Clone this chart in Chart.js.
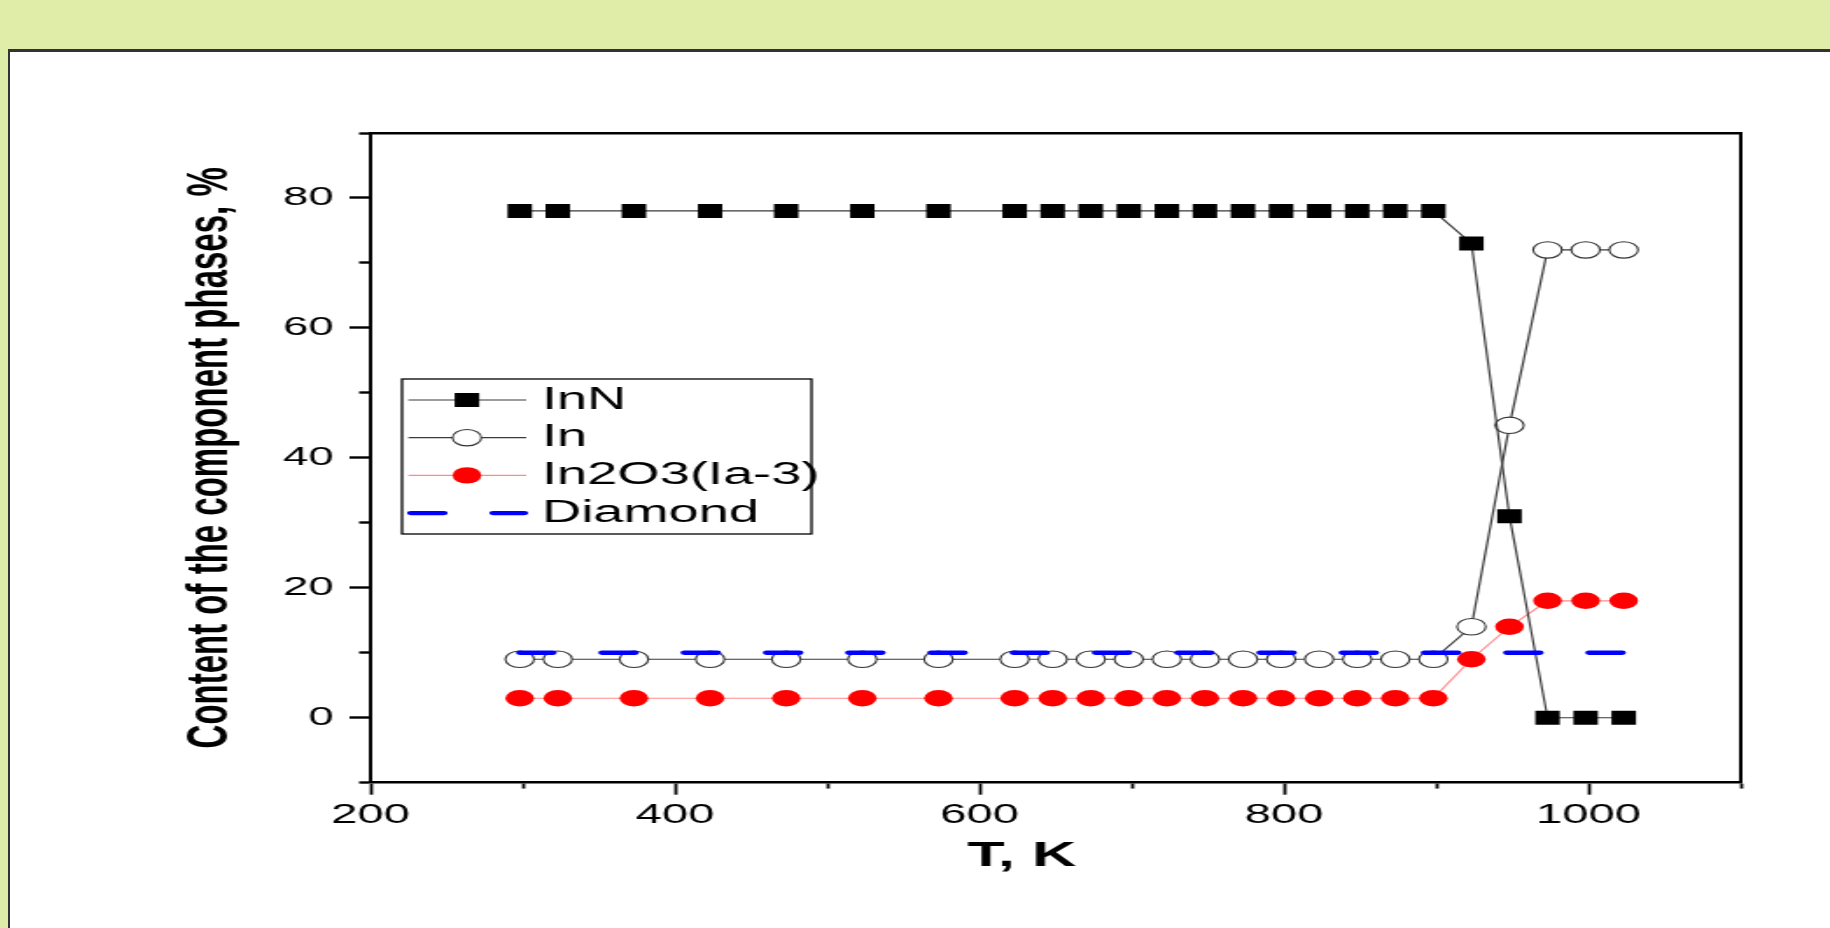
<!DOCTYPE html>
<html>
<head>
<meta charset="utf-8">
<title>Content of the component phases</title>
<script src="https://cdn.jsdelivr.net/npm/chart.js@4.4.1/dist/chart.umd.min.js"></script>
<style>
  html, body { margin: 0; padding: 0; }
  body { width: 1830px; height: 928px; overflow: hidden; background: #e0eda8; position: relative; }
  #panel { position: absolute; left: 8px; top: 49px; width: 1840px; height: 900px; background: #fff;
           border-left: 2px solid #333; border-top: 3px solid #333; }
  #chart { position: absolute; left: 10px; top: 52px; }
</style>
</head>
<body>
<div id="panel"></div>
<!-- the original figure is stretched sideways, so the canvas is too (inline size, Chart.js keeps it) -->
<canvas id="chart" width="1040" height="876" style="width:1820px;height:876px"></canvas>
<script>
// T, K
const temperatures = [298, 323, 373, 423, 473, 523, 573, 623, 648, 673, 698, 723,
                      748, 773, 798, 823, 848, 873, 898, 923, 948, 973, 998, 1023];
// content, %
const inN     = [78, 78, 78, 78, 78, 78, 78, 78, 78, 78, 78, 78, 78, 78, 78, 78, 78, 78, 78, 73, 31, 0, 0, 0];
const inMetal = [9, 9, 9, 9, 9, 9, 9, 9, 9, 9, 9, 9, 9, 9, 9, 9, 9, 9, 9, 14, 45, 72, 72, 72];
const in2o3   = [3, 3, 3, 3, 3, 3, 3, 3, 3, 3, 3, 3, 3, 3, 3, 3, 3, 3, 3, 9, 14, 18, 18, 18];
const diamond = [10, 10, 10, 10, 10, 10, 10, 10, 10, 10, 10, 10, 10, 10, 10, 10, 10, 10, 10, 10, 10, 10, 10, 10];

const seriesNames = ['InN', 'In', 'In2O3(Ia-3)', 'Diamond'];
const xTickLabels = [200, 400, 600, 800, 1000];
const yTickLabels = [0, 20, 40, 60, 80];

const family = '"Liberation Sans", Arial, sans-serif';

function pts(vals) {
    return temperatures.map(function(t, i) { return {x: t, y: vals[i]}; });
}

function isMajor(c, labels) {
    return c.tick && labels.indexOf(c.tick.value) !== -1;
}

// legend box drawn inside the plot, like the Origin one
const insideLegend = {
    id: 'insideLegend',
    afterDraw: function(chart) {
        const ctx = chart.ctx;
        const left = 224, top = 327, right = 458, bottom = 482;
        ctx.save();
        ctx.fillStyle = '#fff';
        ctx.fillRect(left, top, right - left, bottom - top);
        ctx.strokeStyle = '#000';
        ctx.lineWidth = 1.3;
        ctx.strokeRect(left, top, right - left, bottom - top);

        chart.data.datasets.forEach(function(ds, i) {
            const y = 348 + i * 37.7;
            ctx.save();
            ctx.strokeStyle = ds.borderColor;
            ctx.lineWidth = ds.borderWidth;
            ctx.setLineDash(ds.borderDash || []);
            ctx.lineCap = ds.borderCapStyle || 'butt';
            ctx.beginPath();
            if (ds.pointRadius > 0) {
                ctx.moveTo(227.6, y);
                ctx.lineTo(295, y);
            } else {
                ctx.moveTo(229, y);
                ctx.lineTo(294, y);
            }
            ctx.stroke();
            ctx.restore();

            if (ds.pointRadius > 0) {
                const cx = 261.1, r = ds.pointRadius;
                ctx.fillStyle = ds.pointBackgroundColor;
                ctx.strokeStyle = ds.pointBorderColor;
                ctx.lineWidth = ds.pointBorderWidth;
                ctx.beginPath();
                if (ds.pointStyle === 'rect') {
                    const h = r * Math.SQRT1_2;
                    ctx.rect(cx - h, y - h, 2 * h, 2 * h);
                } else {
                    ctx.arc(cx, y, r, 0, Math.PI * 2);
                }
                ctx.fill();
                if (ds.pointBorderWidth > 0) ctx.stroke();
            }

            ctx.fillStyle = '#000';
            ctx.font = '31px ' + family;
            ctx.textAlign = 'left';
            ctx.textBaseline = 'middle';
            ctx.fillText(ds.label, 304, y);
        });
        ctx.restore();
    }
};

const data = {
    datasets: [
        {
            label: seriesNames[0],
            data: pts(inN),
            borderColor: '#3a3a3a',
            borderWidth: 1.2,
            pointStyle: 'rect',
            pointRadius: 9.9,
            pointBackgroundColor: '#000',
            pointBorderColor: '#000',
            pointBorderWidth: 0,
            order: 1
        },
        {
            label: seriesNames[1],
            data: pts(inMetal),
            borderColor: '#3a3a3a',
            borderWidth: 1.2,
            pointStyle: 'circle',
            pointRadius: 8.2,
            pointBackgroundColor: '#fff',
            pointBorderColor: '#333',
            pointBorderWidth: 1.1,
            order: 1
        },
        {
            label: seriesNames[2],
            data: pts(in2o3),
            borderColor: '#ff8a8a',
            borderWidth: 1.2,
            pointStyle: 'circle',
            pointRadius: 8.2,
            pointBackgroundColor: '#ff0000',
            pointBorderColor: '#ff0000',
            pointBorderWidth: 0,
            order: 1
        },
        {
            label: seriesNames[3],
            data: pts(diamond),
            borderColor: '#0000ff',
            borderWidth: 4.3,
            borderDash: [19, 28],
            borderCapStyle: 'round',
            pointRadius: 0,
            order: 0
        }
    ]
};

const config = {
    type: 'line',
    data: data,
    plugins: [insideLegend],
    options: {
        responsive: false,
        devicePixelRatio: 1,
        animation: false,
        layout: { padding: 0 },
        plugins: {
            legend: { display: false },
            tooltip: { enabled: false }
        },
        scales: {
            x: {
                type: 'linear',
                position: 'bottom',
                min: 200,
                max: 1100,
                afterFit: function(s) { s.height = 145.3; },
                border: { display: true, color: '#000', width: 2.6 },
                grid: {
                    drawOnChartArea: false,
                    tickLength: 12,
                    tickColor: '#000',
                    tickWidth: 1.8,
                    tickBorderDash: function(c) { return isMajor(c, xTickLabels) ? [] : [5, 100]; }
                },
                ticks: {
                    stepSize: 100,
                    autoSkip: false,
                    maxRotation: 0,
                    padding: 5,
                    color: '#000',
                    font: { family: family, size: 27 },
                    callback: function(v) { return xTickLabels.indexOf(v) !== -1 ? String(v) : ''; }
                },
                title: {
                    display: true,
                    text: 'T, K\u00a0\u00a0\u00a0\u00a0',
                    color: '#000',
                    font: { family: family, size: 35, weight: 'bold' },
                    padding: { top: 0, bottom: 51 }
                }
            },
            x2: {
                type: 'linear',
                position: 'top',
                min: 200,
                max: 1100,
                afterFit: function(s) { s.height = 81; },
                border: { display: true, color: '#000', width: 2.6 },
                grid: { drawOnChartArea: false, drawTicks: false },
                ticks: { display: false }
            },
            y: {
                type: 'linear',
                position: 'left',
                min: -10,
                max: 90,
                afterFit: function(s) { s.width = 206; },
                border: { display: true, color: '#000', width: 2 },
                grid: {
                    drawOnChartArea: false,
                    tickLength: 12,
                    tickColor: '#000',
                    tickWidth: 2.4,
                    tickBorderDash: function(c) { return isMajor(c, yTickLabels) ? [] : [6, 5.5]; },
                    tickBorderDashOffset: function(c) { return isMajor(c, yTickLabels) ? 0 : 6; }
                },
                ticks: {
                    stepSize: 10,
                    autoSkip: false,
                    padding: 9,
                    color: '#000',
                    font: { family: family, size: 26 },
                    callback: function(v) { return yTickLabels.indexOf(v) !== -1 ? String(v) : ''; }
                },
                title: {
                    display: true,
                    text: 'Content of the component phases, %',
                    color: '#000',
                    font: { family: family, size: 33, weight: 'bold' },
                    padding: { top: 95.6, bottom: 0 }
                }
            },
            y2: {
                type: 'linear',
                position: 'right',
                min: -10,
                max: 90,
                afterFit: function(s) { s.width = 50.9; },
                border: { display: true, color: '#000', width: 2 },
                grid: { drawOnChartArea: false, drawTicks: false },
                ticks: { display: false }
            }
        }
    }
};

const myChart = new Chart(document.getElementById('chart'), config);
</script>
</body>
</html>
